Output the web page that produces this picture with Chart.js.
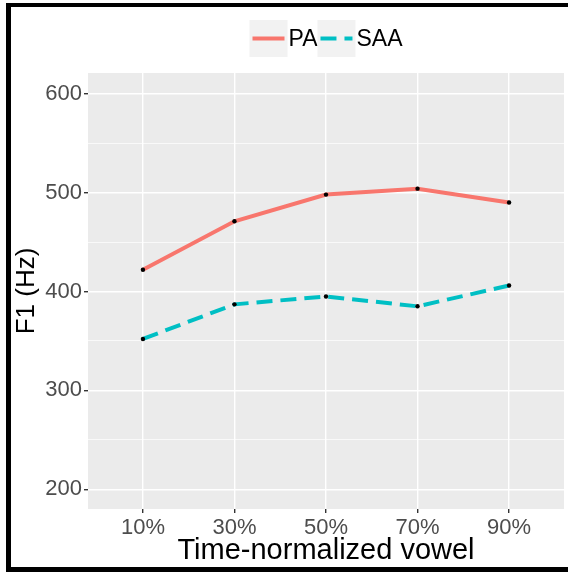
<!DOCTYPE html>
<html>
<head>
<meta charset="utf-8">
<script src="https://cdn.jsdelivr.net/npm/chart.js@4"></script>
<style>
body{margin:0;background:#fff;}
</style>
</head>
<body>
<canvas id="myChart" width="568" height="572"></canvas>
<script>
// data
var categories = ["10%", "30%", "50%", "70%", "90%"];
var seriesNames = ["PA", "SAA"];
var paValues = [422, 471, 498, 504, 490];
var saaValues = [352, 387, 395, 385, 406];
var seriesColors = ["#F8766D", "#00BFC4"];
var seriesDash = [[], [16, 8]];

function toPoints(vals){
  return vals.map(function(v, i){ return {x: i + 1, y: v}; });
}

// grey panel, white page, black frame and the ggplot-style legend
var ggPlugin = {
  id: 'gg',
  beforeDraw: function(chart){
    var ctx = chart.ctx, a = chart.chartArea;
    ctx.save();
    ctx.fillStyle = '#fff';
    ctx.fillRect(0, 0, chart.width, chart.height);
    ctx.fillStyle = '#EBEBEB';
    ctx.fillRect(a.left, a.top, a.right - a.left, a.bottom - a.top);
    ctx.restore();
  },
  afterDraw: function(chart){
    var ctx = chart.ctx, a = chart.chartArea;
    ctx.save();
    // frame
    ctx.fillStyle = '#000';
    ctx.fillRect(6, 3, chart.width - 6, 4);
    ctx.fillRect(6, 3, 5, chart.height - 3);
    ctx.fillRect(6, chart.height - 5, chart.width - 6, 5);

    // legend
    ctx.font = '23px "Liberation Sans", Arial, sans-serif';
    var keyW = 38, keyH = 37, keyTop = 20;
    var total = 0;
    chart.data.datasets.forEach(function(ds){ total += keyW + ctx.measureText(ds.label).width + 1; });
    var x = (a.left + a.right) / 2 - total / 2;
    var cy = keyTop + keyH / 2;
    chart.data.datasets.forEach(function(ds){
      ctx.fillStyle = '#F2F2F2';
      ctx.fillRect(x, keyTop, keyW, keyH);
      ctx.strokeStyle = ds.borderColor;
      ctx.lineWidth = 4;
      ctx.setLineDash(ds.borderDash || []);
      ctx.beginPath();
      ctx.moveTo(x + 3, cy);
      ctx.lineTo(x + keyW - 3, cy);
      ctx.stroke();
      ctx.setLineDash([]);
      ctx.fillStyle = '#000';
      ctx.textBaseline = 'middle';
      ctx.textAlign = 'left';
      ctx.fillText(ds.label, x + keyW + 1, cy + 1);
      x += keyW + ctx.measureText(ds.label).width + 1;
    });
    ctx.restore();
  }
};

var ctx = document.getElementById('myChart').getContext('2d');
var chart = new Chart(ctx, {
  type: 'line',
  data: {
    datasets: [{
      label: seriesNames[0],
      data: toPoints(paValues),
      borderColor: seriesColors[0],
      borderWidth: 4,
      borderDash: seriesDash[0],
      pointRadius: 2.2,
      pointBorderWidth: 0,
      pointBackgroundColor: '#000',
      tension: 0
    }, {
      label: seriesNames[1],
      data: toPoints(saaValues),
      borderColor: seriesColors[1],
      borderWidth: 4,
      borderDash: seriesDash[1],
      pointRadius: 2.2,
      pointBorderWidth: 0,
      pointBackgroundColor: '#000',
      tension: 0
    }]
  },
  options: {
    responsive: false,
    animation: false,
    layout: { padding: { left: 0, top: 73, right: 3, bottom: 0 } },
    plugins: {
      legend: { display: false },
      tooltip: { enabled: false }
    },
    scales: {
      x: {
        type: 'linear',
        min: 0.4,
        max: 5.6,
        border: { display: false },
        grid: { color: '#fff', lineWidth: 1.4, tickColor: '#333', tickLength: 4 },
        ticks: {
          stepSize: 1,
          includeBounds: false,
          autoSkip: false,
          maxRotation: 0,
          padding: 2,
          color: '#4D4D4D',
          font: { family: '"Liberation Sans", Arial, sans-serif', size: 22 },
          callback: function(v){ return categories[v - 1]; }
        },
        title: {
          display: true,
          text: 'Time-normalized vowel',
          color: '#000',
          padding: { top: 0, bottom: 4 },
          font: { family: '"Liberation Sans", Arial, sans-serif', size: 29 }
        },
        afterFit: function(s){ s.height = 63; }
      },
      y: {
        min: 180,
        max: 621,
        border: { display: false },
        grid: {
          color: '#fff',
          lineWidth: function(c){ return c.tick.value % 100 === 0 ? 1.4 : 0.7; },
          tickColor: function(c){ return c.tick.value % 100 === 0 ? '#333' : 'rgba(0,0,0,0)'; },
          tickLength: 4
        },
        ticks: {
          stepSize: 50,
          includeBounds: false,
          autoSkip: false,
          padding: 2,
          color: '#4D4D4D',
          font: { family: '"Liberation Sans", Arial, sans-serif', size: 22 },
          callback: function(v){ return v % 100 === 0 ? String(v) : ''; }
        },
        title: {
          display: true,
          text: 'F1 (Hz)',
          color: '#000',
          padding: { top: 11, bottom: 0 },
          font: { family: '"Liberation Sans", Arial, sans-serif', size: 26 }
        },
        afterFit: function(s){ s.width = 88; }
      }
    }
  },
  plugins: [ggPlugin]
});
</script>
</body>
</html>
